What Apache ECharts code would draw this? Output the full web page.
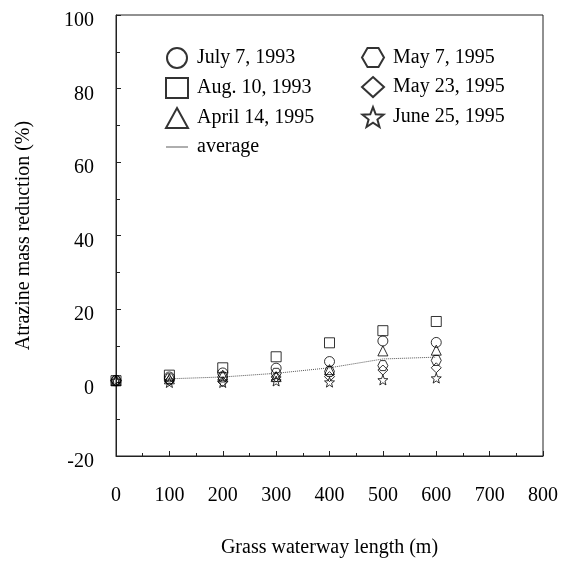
<!DOCTYPE html>
<html>
<head>
<meta charset="utf-8">
<script src="https://cdn.jsdelivr.net/npm/echarts@6/dist/echarts.min.js"></script>
<style>
  html, body { margin: 0; padding: 0; background: #fff; }
  #main { width: 566px; height: 567px; }
</style>
</head>
<body>
<div id="main"></div>
<script>
// grass waterway length (m)
var lengths = [0, 100, 200, 300, 400, 500, 600];
var july7_1993   = [0.5, 1.5, 2.6, 3.9, 5.7, 11.3, 10.9];
var aug10_1993   = [0.5, 2.0, 4.0, 7.0, 10.8, 14.1, 16.6];
var apr14_1995   = [0.5, 1.0, 2.0, 1.6, 3.5, 8.6, 8.8];
var may7_1995    = [0.5, 1.0, 1.5, 2.5, 3.0, 4.6, 6.0];
var may23_1995   = [0.5, 0.5, 0.2, 1.5, 1.6, 3.4, 4.0];
var june25_1995  = [0.5, 0.0, 0.0, 0.4, 0.1, 0.7, 1.2];
var avgLengths   = [100, 200, 300, 400, 500, 600];
var average      = [1.0, 1.5, 2.5, 4.0, 6.4, 6.9];

var yTicks = { min: -20, max: 100, step: 20 };
var xTicks = { min: 0, max: 800, step: 100 };

var FONT = 'Liberation Serif';

// symbol outlines
var hexPath = 'path://M0,8.66 L5,0 L15,0 L20,8.66 L15,17.32 L5,17.32 Z';
var starPath = (function () {
  var pts = [];
  for (var i = 0; i < 10; i++) {
    var r = i % 2 === 0 ? 10 : 4.2;
    var a = -Math.PI / 2 + i * Math.PI / 5;
    pts.push((10 + r * Math.cos(a)).toFixed(2) + ',' + (10 + r * Math.sin(a)).toFixed(2));
  }
  return 'path://M' + pts.join(' L') + ' Z';
})();
var linePath = 'path://M0,0 L30,0 L30,1 L0,1 Z';

function pairs(xs, ys) {
  return xs.map(function (x, i) { return [x, ys[i]]; });
}

function scatter(name, symbol, ys) {
  return {
    name: name,
    type: 'scatter',
    symbol: symbol,
    symbolSize: 10,
    data: pairs(lengths, ys),
    itemStyle: { color: 'rgba(0,0,0,0)', borderColor: '#000', borderWidth: 1 },
    z: 3
  };
}

var chart = echarts.init(document.getElementById('main'));

var legendText = { fontFamily: FONT, fontSize: 20, color: '#000', lineHeight: 20, padding: [0, 0, 0, 4] };

var option = {
  animation: false,
  backgroundColor: '#fff',
  textStyle: { fontFamily: FONT },
  grid: {
    left: 116, right: 23, top: 15, bottom: 111,
    show: true, borderColor: '#222', borderWidth: 1
  },
  legend: [
    {
      orient: 'vertical',
      left: 160, top: 42,
      itemWidth: 22, itemHeight: 20, itemGap: 8,
      textStyle: legendText,
      data: ['July 7, 1993', 'Aug. 10, 1993', 'April 14, 1995',
        { name: 'average', icon: linePath, itemStyle: { color: '#222', borderWidth: 0 } }]
    },
    {
      orient: 'vertical',
      left: 356, top: 42,
      itemWidth: 22, itemHeight: 20, itemGap: 8,
      textStyle: legendText,
      data: ['May 7, 1995', 'May 23, 1995', 'June 25, 1995']
    }
  ],
  xAxis: {
    type: 'value',
    min: xTicks.min, max: xTicks.max, interval: xTicks.step,
    name: 'Grass waterway length (m)',
    nameLocation: 'middle', nameGap: 82,
    nameTextStyle: { fontFamily: FONT, fontSize: 20, color: '#000' },
    axisLine: { show: true, onZero: false, lineStyle: { color: '#222', width: 1 } },
    axisTick: { show: true, inside: true, length: 5, lineStyle: { color: '#222' } },
    minorTick: { show: true, splitNumber: 2, length: 3, lineStyle: { color: '#222' } },
    axisLabel: { fontFamily: FONT, fontSize: 20, color: '#000', margin: 30 },
    splitLine: { show: false }
  },
  yAxis: {
    type: 'value',
    min: yTicks.min, max: yTicks.max, interval: yTicks.step,
    name: 'Atrazine mass reduction (%)',
    nameLocation: 'middle', nameGap: 82, nameRotate: 90,
    nameTextStyle: { fontFamily: FONT, fontSize: 20, color: '#000' },
    axisLine: { show: true, onZero: false, lineStyle: { color: '#222', width: 1 } },
    axisTick: { show: true, inside: true, length: 5, lineStyle: { color: '#222' } },
    minorTick: { show: true, splitNumber: 2, length: 4, lineStyle: { color: '#222' } },
    axisLabel: { fontFamily: FONT, fontSize: 20, color: '#000', margin: 22, verticalAlign: 'top', lineHeight: 12 },
    splitLine: { show: false }
  },
  series: [
    scatter('July 7, 1993', 'circle', july7_1993),
    scatter('Aug. 10, 1993', 'rect', aug10_1993),
    scatter('April 14, 1995', 'triangle', apr14_1995),
    scatter('May 7, 1995', hexPath, may7_1995),
    scatter('May 23, 1995', 'diamond', may23_1995),
    scatter('June 25, 1995', starPath, june25_1995),
    {
      name: 'average',
      type: 'line',
      symbol: 'none',
      data: pairs(avgLengths, average),
      lineStyle: { color: '#555', width: 1, type: 'dotted' },
      z: 2
    }
  ]
};

chart.setOption(option);
</script>
</body>
</html>
